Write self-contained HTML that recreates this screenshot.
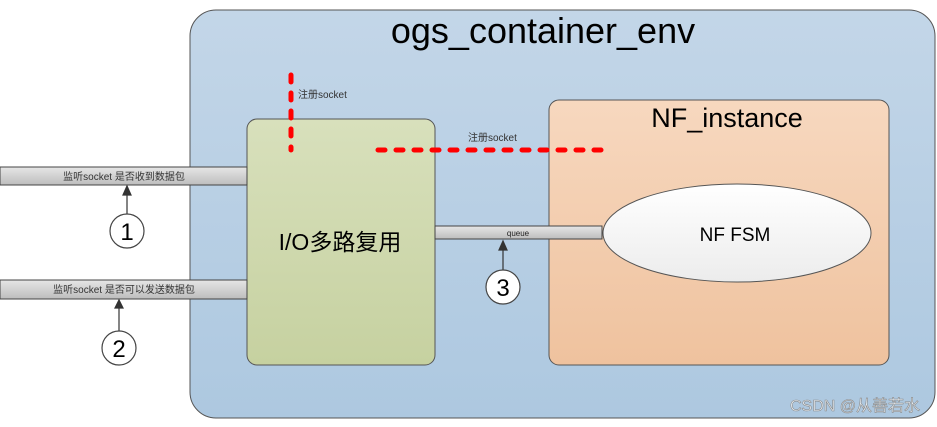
<!DOCTYPE html>
<html><head><meta charset="utf-8"><style>
body{margin:0;width:937px;height:422px;background:#fff;overflow:hidden}
text{font-family:"Liberation Sans","Noto Sans CJK SC",sans-serif}
</style></head><body>
<svg width="937" height="422" viewBox="0 0 937 422">
<defs>
<linearGradient id="bg" x1="0" y1="0" x2="0" y2="1"><stop offset="0" stop-color="#c3d6e8"/><stop offset="1" stop-color="#adc8e0"/></linearGradient>
<linearGradient id="gr" x1="0" y1="0" x2="0" y2="1"><stop offset="0" stop-color="#d8e0bc"/><stop offset="1" stop-color="#c6d1a0"/></linearGradient>
<linearGradient id="or" x1="0" y1="0" x2="0" y2="1"><stop offset="0" stop-color="#f7d8bf"/><stop offset="1" stop-color="#efc29e"/></linearGradient>
<linearGradient id="el" x1="0" y1="0" x2="0" y2="1"><stop offset="0" stop-color="#fff"/><stop offset="1" stop-color="#ececec"/></linearGradient>
<linearGradient id="bar" x1="0" y1="0" x2="0" y2="1"><stop offset="0" stop-color="#e6e6e6"/><stop offset="1" stop-color="#bdbdbd"/></linearGradient>
</defs>
<rect x="190" y="10" width="745" height="408" rx="26" fill="url(#bg)" stroke="#555" stroke-width="1"/>
<text x="543" y="43" font-size="36" text-anchor="middle" fill="#000">ogs_container_env</text>
<rect x="549" y="100" width="340" height="265" rx="10" fill="url(#or)" stroke="#555"/>
<text x="727" y="127" font-size="27" text-anchor="middle">NF_instance</text>
<rect x="247" y="119" width="188" height="246" rx="10" fill="url(#gr)" stroke="#555"/>
<text x="340" y="250" font-size="23" text-anchor="middle">I/O多路复用</text>
<rect x="0" y="167" width="247" height="18" fill="url(#bar)" stroke="#444"/>
<text x="124" y="180" font-size="10" text-anchor="middle" fill="#333">监听socket 是否收到数据包</text>
<rect x="0" y="280" width="247" height="19" fill="url(#bar)" stroke="#444"/>
<text x="124" y="293" font-size="10" text-anchor="middle" fill="#333">监听socket 是否可以发送数据包</text>
<rect x="435" y="226" width="167" height="13" fill="url(#bar)" stroke="#444"/>
<text x="518" y="236" font-size="8" text-anchor="middle" fill="#222">queue</text>
<ellipse cx="737" cy="233" rx="134" ry="49" fill="url(#el)" stroke="#555"/>
<text x="735" y="241" font-size="19" text-anchor="middle">NF FSM</text>
<g stroke="#333" stroke-width="1.2" fill="#333">
<line x1="127" y1="214" x2="127" y2="193"/><path d="M123 195 L127 186 L131 195Z"/>
<line x1="119" y1="331" x2="119" y2="307"/><path d="M115 308 L119 300 L123 308Z"/>
<line x1="503" y1="270" x2="503" y2="248"/><path d="M499 250 L503 241 L507 250Z"/>
</g>
<g fill="#fff" stroke="#444" stroke-width="1.2">
<circle cx="127" cy="231" r="17"/><circle cx="119" cy="348" r="17"/><circle cx="503" cy="287" r="17"/>
</g>
<g font-size="24" text-anchor="middle" fill="#000">
<text x="127" y="240">1</text><text x="119" y="357">2</text><text x="503" y="296">3</text>
</g>
<g stroke="#f00" stroke-width="5" stroke-linecap="round" stroke-dasharray="7,11">
<line x1="291" y1="75" x2="291" y2="150"/>
<line x1="378" y1="150" x2="603" y2="150"/>
</g>
<text x="298" y="98" font-size="10" fill="#333">注册socket</text>
<text x="468" y="141" font-size="10" fill="#333">注册socket</text>
<text x="920" y="411" font-size="16" text-anchor="end" fill="#e8eef4" stroke="#8a8a8a" stroke-width="0.6">CSDN @从善若水</text>
</svg>
</body></html>
